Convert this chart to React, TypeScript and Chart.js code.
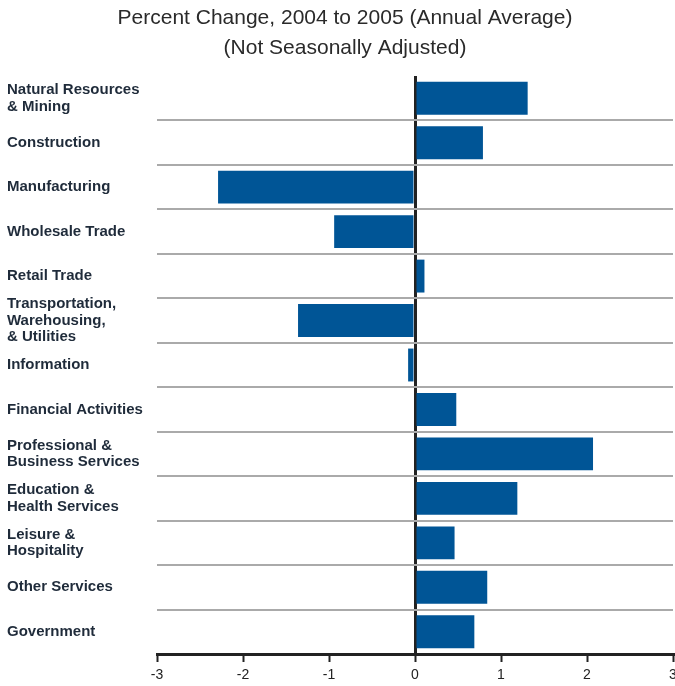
import React, { useEffect, useRef } from "react";
import { Chart, registerables } from "chart.js";

Chart.register(...registerables);

const categories: (string | string[])[] = [
  ["Natural Resources", "& Mining"],
  "Construction",
  "Manufacturing",
  "Wholesale Trade",
  "Retail Trade",
  ["Transportation,", "Warehousing,", "& Utilities"],
  "Information",
  "Financial Activities",
  ["Professional &", "Business Services"],
  ["Education &", "Health Services"],
  ["Leisure &", "Hospitality"],
  "Other Services",
  "Government",
];

const percentChange: number[] = [
  1.31, 0.79, -2.29, -0.94, 0.11, -1.36, -0.08, 0.48, 2.07, 1.19, 0.46, 0.84, 0.69,
];

const titleLines: string[] = [
  "Percent Change, 2004 to 2005 (Annual Average)",
  "(Not Seasonally Adjusted)",
];

const xMin = -3;
const xMax = 3;

export default function App() {
  const canvasRef = useRef<HTMLCanvasElement | null>(null);

  useEffect(() => {
    const canvas = canvasRef.current;
    if (!canvas) return;

    const titleShift = {
      id: "titleShift",
      afterLayout(chart: any) {
        if (chart.titleBlock) {
          chart.titleBlock.left += 10;
        }
      },
    };

    const chart = new Chart(canvas, {
      type: "bar",
      data: {
        labels: categories,
        datasets: [
          {
            data: percentChange,
            backgroundColor: "#005596",
            borderWidth: 0,
            barPercentage: 0.74,
            categoryPercentage: 1.0,
          },
        ],
      },
      plugins: [titleShift],
      options: {
        indexAxis: "y",
        animation: false,
        responsive: false,
        layout: {
          autoPadding: false,
          padding: { left: 7, right: 2, top: 0, bottom: 0 },
        },
        plugins: {
          legend: { display: false },
          tooltip: { enabled: false },
          title: {
            display: true,
            text: titleLines,
            color: "#2a2a2a",
            font: {
              family: "'Liberation Sans', Arial, sans-serif",
              size: 21,
              weight: "normal",
              lineHeight: 30 / 21,
            },
            padding: { top: 3, bottom: 13 },
          },
        },
        scales: {
          x: {
            type: "linear",
            min: xMin,
            max: xMax,
            z: 1,
            afterFit(scale: any) {
              scale.height = 32;
              scale.paddingLeft = 0;
              scale.paddingRight = 0;
            },
            border: { display: true, color: "#222222", width: 3 },
            grid: {
              color: (ctx: any) =>
                ctx.tick && ctx.tick.value === 0 ? "#222222" : "rgba(0,0,0,0)",
              lineWidth: 3,
              tickColor: "#222222",
              tickLength: 8,
              tickWidth: 2,
              drawOnChartArea: true,
            },
            ticks: {
              stepSize: 1,
              padding: 5,
              color: "#222222",
              font: { family: "'Liberation Sans', Arial, sans-serif", size: 14 },
            },
          },
          y: {
            type: "category",
            afterFit(scale: any) {
              scale.width = 150;
              scale.paddingTop = 0;
              scale.paddingBottom = 0;
            },
            border: { display: false },
            grid: {
              offset: true,
              color: (ctx: any) => (ctx.index === 0 ? "rgba(0,0,0,0)" : "#aaaaaa"),
              lineWidth: 2,
              drawTicks: false,
            },
            ticks: {
              autoSkip: false,
              crossAlign: "far",
              color: "#1f2b3a",
              font: {
                family: "'Liberation Sans', Arial, sans-serif",
                size: 15,
                weight: "bold",
                lineHeight: 1.1,
              },
            },
          },
        },
      },
    } as any);

    return () => {
      chart.destroy();
    };
  }, []);

  return (
    <div style={{ position: "absolute", left: 0, top: 0, width: 675, height: 686 }}>
      <canvas ref={canvasRef} width={675} height={686} style={{ width: 675, height: 686 }} />
    </div>
  );
}
